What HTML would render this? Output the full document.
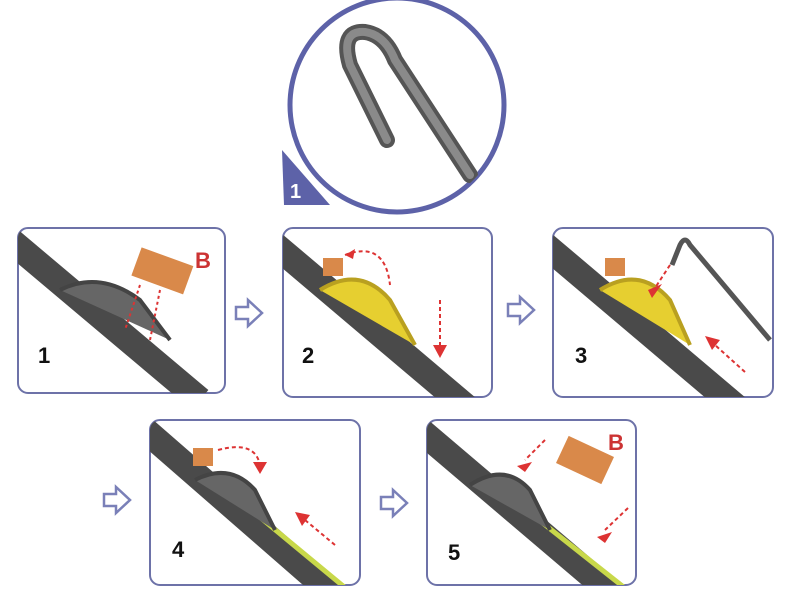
<!DOCTYPE html>
<html><head><style>
html,body{margin:0;padding:0;background:#fff;}
svg{display:block;}
text{font-family:"Liberation Sans",sans-serif;font-weight:bold;}
</style></head><body>
<svg width="800" height="600" viewBox="0 0 800 600" xmlns="http://www.w3.org/2000/svg">
<defs>
<clipPath id="c1"><rect x="18" y="228" width="207" height="165" rx="10"/></clipPath>
<clipPath id="c2"><rect x="283" y="228" width="209" height="169" rx="10"/></clipPath>
<clipPath id="c3"><rect x="553" y="228" width="220" height="169" rx="10"/></clipPath>
<clipPath id="c4"><rect x="150" y="420" width="210" height="165" rx="10"/></clipPath>
<clipPath id="c5"><rect x="427" y="420" width="209" height="165" rx="10"/></clipPath>
<clipPath id="cc"><circle cx="397" cy="105" r="107"/></clipPath>
<g id="hollow"><path d="M0,-6 H12 V-13 L26,0 L12,13 V6 H0 Z" fill="#fff" stroke="#7a80b8" stroke-width="2.5"/></g>
</defs>

<!-- circle -->
<circle cx="397" cy="105" r="107" fill="#fff" stroke="#5d62a8" stroke-width="5"/>
<g clip-path="url(#cc)">
<path d="M387,140 L350,65 Q340,30 365,32 Q385,35 395,60 L470,175" fill="none" stroke="#555" stroke-width="16" stroke-linecap="round"/>
<path d="M387,140 L350,65 Q340,30 365,32 Q385,35 395,60 L470,175" fill="none" stroke="#8a8a8a" stroke-width="8" stroke-linecap="round"/>
<path d="M280,120 L330,210 L280,210 Z" fill="#5d62a8"/>
</g>
<path d="M282,150 L330,205 L284,205 Z" fill="#5d62a8"/>
<text x="290" y="198" font-size="20" fill="#fff">1</text>

<!-- panels -->
<g fill="#fff" stroke="#6d72a8" stroke-width="2">
<rect x="18" y="228" width="207" height="165" rx="10"/>
<rect x="283" y="228" width="209" height="169" rx="10"/>
<rect x="553" y="228" width="220" height="169" rx="10"/>
<rect x="150" y="420" width="210" height="165" rx="10"/>
<rect x="427" y="420" width="209" height="165" rx="10"/>
</g>

<!-- panel 1 -->
<g clip-path="url(#c1)">
<path d="M10,240 L200,400" stroke="#4a4a4a" stroke-width="26"/>
<path d="M60,290 Q100,270 140,300 L170,340" fill="#666" stroke="#444" stroke-width="4"/>
<rect x="135" y="255" width="55" height="30" fill="#d9894a" transform="rotate(20 160 270)"/>
<path d="M140,285 L125,330 M160,290 L150,340" stroke="#d33" stroke-width="2" stroke-dasharray="3,3"/>
</g>
<text x="195" y="268" font-size="22" fill="#c33" font-family="Liberation Serif">B</text>
<text x="38" y="363" font-size="22" fill="#111">1</text>

<!-- panel 2 -->
<g clip-path="url(#c2)">
<path d="M275,245 L470,410" stroke="#4a4a4a" stroke-width="26"/>
<path d="M320,290 Q360,265 390,300 L415,345" fill="#e6cf30" stroke="#b9a020" stroke-width="4"/>
<rect x="323" y="258" width="20" height="18" fill="#d9894a"/>
<path d="M345,255 Q385,240 390,285" fill="none" stroke="#d33" stroke-width="2" stroke-dasharray="4,3"/>
<path d="M345,255 l10,-6 l-2,10 z" fill="#d33"/>
<path d="M440,300 L440,350" stroke="#d33" stroke-width="2" stroke-dasharray="4,3"/>
<path d="M433,345 L447,345 L440,358 Z" fill="#d33"/>
</g>
<text x="302" y="363" font-size="22" fill="#111">2</text>

<!-- panel 3 -->
<g clip-path="url(#c3)">
<path d="M545,245 L740,410" stroke="#4a4a4a" stroke-width="26"/>
<path d="M600,290 Q640,265 670,300 L690,345" fill="#e6cf30" stroke="#b9a020" stroke-width="4"/>
<rect x="605" y="258" width="20" height="18" fill="#d9894a"/>
<path d="M672,265 L680,245 Q685,235 690,245 L770,340" fill="none" stroke="#555" stroke-width="5"/>
<path d="M670,265 L655,288" stroke="#d33" stroke-width="2" stroke-dasharray="4,3"/>
<path d="M648,290 L662,284 L652,298 Z" fill="#d33"/>
<path d="M745,372 L715,345" stroke="#d33" stroke-width="2" stroke-dasharray="4,3"/>
<path d="M705,336 L720,340 L712,350 Z" fill="#d33"/>
</g>
<text x="575" y="363" font-size="22" fill="#111">3</text>

<!-- panel 4 -->
<g clip-path="url(#c4)">
<path d="M145,430 L340,600" stroke="#4a4a4a" stroke-width="26"/>
<path d="M215,480 L360,600" stroke="#c8d84a" stroke-width="5"/>
<path d="M195,480 Q230,462 255,490 L275,530" fill="#666" stroke="#444" stroke-width="4"/>
<rect x="193" y="448" width="20" height="18" fill="#d9894a"/>
<path d="M218,450 Q255,440 260,465" fill="none" stroke="#d33" stroke-width="2" stroke-dasharray="4,3"/>
<path d="M253,462 L267,462 L260,474 Z" fill="#d33"/>
<path d="M335,545 L305,520" stroke="#d33" stroke-width="2" stroke-dasharray="4,3"/>
<path d="M295,512 L310,515 L302,526 Z" fill="#d33"/>
</g>
<text x="172" y="557" font-size="22" fill="#111">4</text>

<!-- panel 5 -->
<g clip-path="url(#c5)">
<path d="M420,430 L620,600" stroke="#4a4a4a" stroke-width="26"/>
<path d="M520,505 L640,600" stroke="#c8d84a" stroke-width="5"/>
<path d="M470,485 Q505,462 530,490 L550,530" fill="#666" stroke="#444" stroke-width="4"/>
<rect x="560" y="445" width="50" height="30" fill="#d9894a" transform="rotate(25 585 460)"/>
<path d="M545,440 L525,460" stroke="#d33" stroke-width="2" stroke-dasharray="4,3"/>
<path d="M517,466 L532,462 L525,472 Z" fill="#d33"/>
<path d="M628,508 L605,530" stroke="#d33" stroke-width="2" stroke-dasharray="4,3"/>
<path d="M597,537 L612,532 L605,543 Z" fill="#d33"/>
</g>
<text x="608" y="450" font-size="22" fill="#c33" font-family="Liberation Serif">B</text>
<text x="448" y="560" font-size="22" fill="#111">5</text>

<!-- hollow arrows -->
<use href="#hollow" x="236" y="313"/>
<use href="#hollow" x="508" y="310"/>
<use href="#hollow" x="104" y="500"/>
<use href="#hollow" x="381" y="503"/>
</svg>
</body></html>
